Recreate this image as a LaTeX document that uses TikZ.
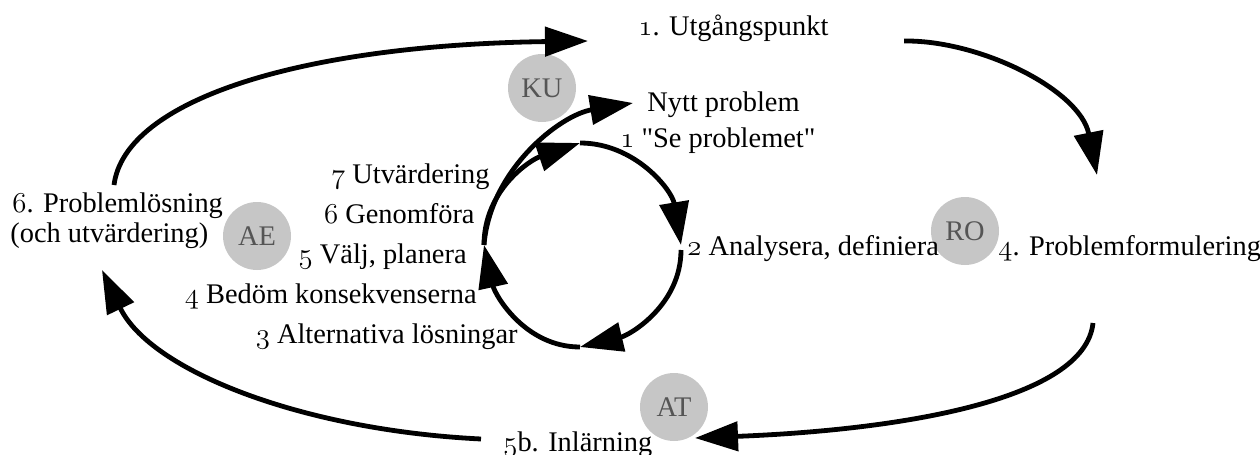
\documentclass[tikz,border=0pt]{standalone}
\usepackage{fontspec}
\newfontfamily\libserif{Liberation Serif}
\usetikzlibrary{arrows.meta}
\definecolor{circfill}{HTML}{C6C6C6}
\definecolor{circtext}{HTML}{555555}
\newcommand{\os}[1]{{\usefont{OML}{cmm}{m}{it}#1}}
\begin{document}
\begin{tikzpicture}[x=0.5pt,y=-0.5pt,
  lbl/.style={inner sep=0pt, font=\libserif\fontsize{14.2}{15}\selectfont},
  circ/.style={circle, fill=circfill, text=circtext, minimum size=34pt, inner sep=0pt, font=\libserif\fontsize{14.2}{15}\selectfont},
  arr/.style={line width=2.4pt, -{Triangle[length=21.5pt,width=14.5pt]}},
]
\useasboundingbox (0,0) rectangle (1260,455);

% circles (drawn first so that text lies above them)
\node[circ] (ku) at (542,88) {KU};
\node[circ] (ae) at (257,236) {AE};
\node[circ] (ro) at (965,231) {RO};
\node[circ] (at) at (674,407) {AT};

% labels
\node[lbl, anchor=base west] (utg) at (638,35) {\os{1}. Utgångspunkt};
\node[lbl, anchor=base west] (nytt) at (647,111) {Nytt problem};
\node[lbl, anchor=base west] (se) at (620,147) {\os{1} "Se problemet"};
\node[lbl, anchor=base east] (utv) at (490,183) {\os{7} Utvärdering};
\node[lbl, anchor=base east] (gen) at (475,223) {\os{6} Genomföra};
\node[lbl, anchor=base east] (valj) at (467,263) {\os{5} Välj, planera};
\node[lbl, anchor=base east] (bed) at (477,303) {\os{4} Bedöm konsekvenserna};
\node[lbl, anchor=base east] (alt) at (518,343) {\os{3} Alternativa lösningar};
\node[lbl, anchor=base west] (ana) at (687,255) {\os{2} Analysera, definiera};
\node[lbl, anchor=base west] (pf) at (998,255) {\os{4}. Problemformulering};
\node[lbl, anchor=base west] (pl) at (12,212) {\os{6}. Problemlösning};
\node[lbl, anchor=base west] (pl2) at (10,242) {(och utvärdering)};
\node[lbl, anchor=base west] (inl) at (503,451) {\os{5}b. Inlärning};

% outer cycle end points
\coordinate (plOut) at (114,185);
\coordinate (utgIn) at (588,41);
\coordinate (utgOut) at (904,41);
\coordinate (pfIn) at (1097,175);
\coordinate (pfOut) at (1093,323);
\coordinate (inlIn) at (695,438);
\coordinate (inlOut) at (481,439);
\coordinate (plIn) at (102,270);

\draw[arr] (plOut) .. controls (125,100) and (300,45) .. (utgIn);
\draw[arr] (utgOut) .. controls (980,40) and (1080,90) .. (pfIn);
\draw[arr] (pfOut) .. controls (1085,400) and (900,430) .. (inlIn);
\draw[arr] (inlOut) .. controls (300,430) and (150,370) .. (plIn);

% inner cycle points
\coordinate (cTop) at (580,143);
\coordinate (cRightIn) at (681,245);
\coordinate (cRightOut) at (681,250);
\coordinate (cBot) at (580,347);
\coordinate (cLeft) at (484,245);
\coordinate (nyttIn) at (633,103);

\draw[arr] (cTop) .. controls (635,143) and (672,190) .. (cRightIn);
\draw[arr] (cRightOut) .. controls (681,305) and (630,335) .. (cBot);
\draw[arr] (cBot) .. controls (525,347) and (495,295) .. (cLeft);
\draw[arr] (cLeft) .. controls (484,190) and (530,160) .. (cTop);
\draw[arr] (cLeft) .. controls (490,170) and (560,115) .. (nyttIn);
\end{tikzpicture}
\end{document}
